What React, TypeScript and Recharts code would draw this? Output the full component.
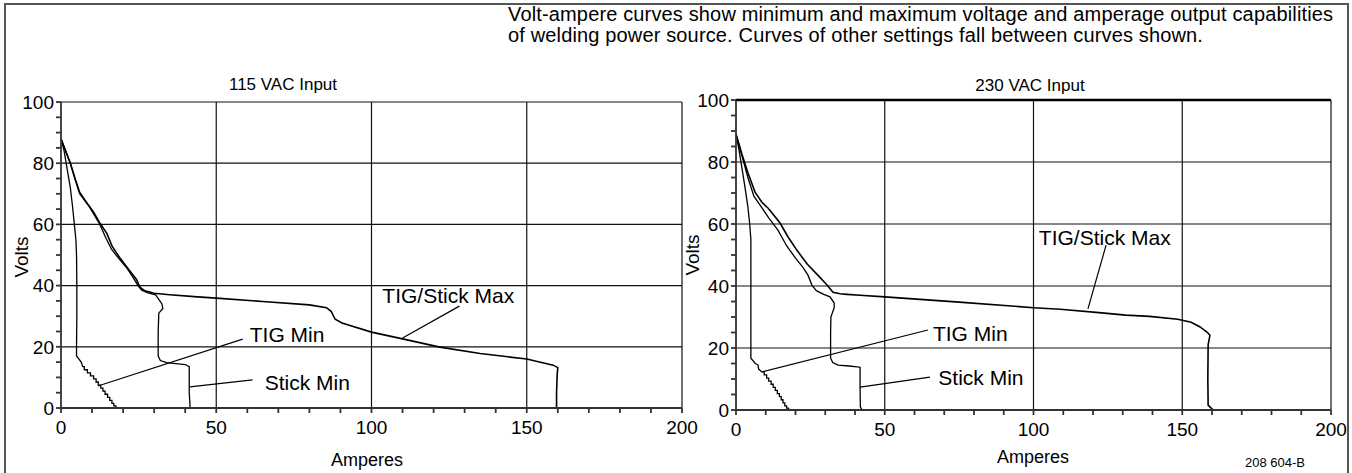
import React from 'react';
import {
  LineChart,
  Line,
  XAxis,
  YAxis,
  CartesianGrid,
  ReferenceLine,
  ReferenceDot,
} from 'recharts';

// [amperes, volts]
const LEFT_TIG_MIN: [number, number][] = [
  [0, 88], [1, 84], [2, 78], [3, 72], [3.7, 66], [4.3, 60], [4.8, 55], [5, 50], [5.1, 40], [5.1, 30],
  [5, 20], [5, 17], [5.8, 16], [6.5, 15], [7, 13.5], [7.5, 13.5], [7.5, 12.5], [8.5, 12.5], [8.5, 11.5],
  [9.5, 11.5], [9.5, 10.5], [10.5, 10.5], [10.5, 9.5], [11.3, 9.5], [11.3, 8.5], [12, 8.5], [12, 7.5],
  [12.8, 7.5], [12.8, 6.5], [13.5, 6.5], [13.5, 5.5], [14.2, 5.5], [14.2, 4.5], [15, 4.5], [15, 3.5],
  [15.7, 3.5], [15.7, 2.5], [16.4, 2.5], [16.4, 1.5], [17, 1.5], [17, 0.7], [17.6, 0.7], [18, 0],
];
const LEFT_STICK_MIN: [number, number][] = [
  [0, 88], [3, 80], [6, 70], [9, 66], [12.5, 60], [14.5, 55.5], [16.2, 52], [18.5, 49], [21, 46],
  [23, 43], [24.8, 40], [26, 38.5], [28, 37.6], [30.5, 37], [32.5, 34], [32.8, 32.5], [31.5, 31],
  [31.3, 25], [31.3, 17], [32, 15.5], [34, 14.8], [37, 14.5], [40, 14.2], [41.3, 13.5], [41.3, 5], [41.6, 0],
];
const LEFT_MAX: [number, number][] = [
  [0, 88], [1.5, 84], [3, 80], [4.5, 75], [6, 70.5], [8, 67.5], [10.5, 64], [12.5, 60.5], [14.8, 57],
  [16.5, 52.8], [19, 49], [22, 45], [24.3, 42], [25.4, 39.5], [27, 38.3], [30, 37.5], [35, 37],
  [44, 36.3], [50, 35.9], [65, 34.8], [80, 33.7], [85.5, 32.8], [87, 31.6], [88.3, 29], [90.5, 27.8],
  [100, 24.8], [110, 22.6], [122, 19.9], [135, 17.8], [150, 16], [158.5, 14], [160, 13.2], [159.8, 11],
  [159.6, 5], [159.6, 0],
];

const RIGHT_TIG_MIN: [number, number][] = [
  [0, 89], [1, 84], [2, 78], [3, 72], [4, 65.5], [4.6, 60], [5, 55], [5, 40], [5, 30], [5, 20],
  [5, 16.7], [6.5, 15], [7.4, 14.5], [7.6, 13.2], [8.7, 12.3], [9.5, 12.3], [9.5, 11.3], [10.3, 11.3],
  [10.3, 10.3], [11, 10.3], [11, 9.3], [11.8, 9.3], [11.8, 8.3], [12.5, 8.3], [12.5, 7.3], [13.2, 7.3],
  [13.2, 6.3], [13.9, 6.3], [13.9, 5.3], [14.6, 5.3], [14.6, 4.3], [15.2, 4.3], [15.2, 3.3], [15.8, 3.3],
  [15.8, 2.3], [16.4, 2.3], [16.4, 1.3], [17, 1.3], [17, 0.6], [17.6, 0.6], [18, 0],
];
const RIGHT_STICK_MIN: [number, number][] = [
  [0, 89], [2, 82], [4, 75], [6, 69], [8.5, 65.5], [11, 62], [14.1, 58], [17, 53], [20, 49],
  [22.5, 46], [24.2, 43.5], [25.5, 40.3], [27, 38.5], [29.5, 37.3], [31.6, 36.5], [33, 34.5], [33, 33],
  [31.9, 30], [31.8, 25], [31.8, 16.8], [32.5, 15.3], [34.3, 14.5], [38, 14.2], [41.7, 13.8], [41.7, 8],
  [41.8, 1], [42.4, 0],
];
const RIGHT_MAX: [number, number][] = [
  [0, 89], [2, 82.5], [4, 76.5], [6.4, 70.3], [8.7, 67], [10.9, 65], [13, 62.5], [14.8, 60.3],
  [17.5, 55.8], [20.5, 51.5], [24, 47], [27.5, 43.5], [30.6, 40.3], [32.6, 38], [35, 37.5], [37.3, 37.3],
  [41.7, 37], [50, 36.5], [75, 34.8], [100, 33], [109, 32.5], [122, 31.4], [131, 30.6], [139, 30.2],
  [148.5, 29.3], [153, 28.3], [156, 26.8], [158.5, 25], [159.3, 24.1], [158.7, 21], [158.6, 10],
  [158.7, 1.6], [160.4, 0],
];

// leader lines: [fromA, fromV, toA, toV], labels: [text, A, V]
const LEFT_LEADERS = [
  [128.3, 33.3, 110, 22.9],
  [58.5, 22.5, 11.9, 7.2],
  [61.7, 9.2, 41.5, 6.9],
];
const LEFT_LABELS: [string, number, number][] = [
  ['TIG/Stick Max', 103.5, 36.6],
  ['TIG Min', 60.8, 23.9],
  ['Stick Min', 65.6, 8.2],
];
const RIGHT_LEADERS = [
  [124.4, 53.2, 118.3, 32.6],
  [64.5, 25.8, 8.7, 12.3],
  [65.2, 10.6, 41.7, 7.4],
];
const RIGHT_LABELS: [string, number, number][] = [
  ['TIG/Stick Max', 101.8, 55.5],
  ['TIG Min', 66.2, 24.8],
  ['Stick Min', 68, 10.6],
];

const X_TICKS = [0, 10, 20, 30, 40, 50, 60, 70, 80, 90, 100, 110, 120, 130, 140, 150, 160, 170, 180, 190, 200];
const Y_TICKS = [0, 5, 10, 15, 20, 25, 30, 35, 40, 45, 50, 55, 60, 65, 70, 75, 80, 85, 90, 95, 100];

const FONT = '"Liberation Sans", Arial, Helvetica, sans-serif';

const toRows = (pts: [number, number][]) => pts.map(([a, v]) => ({ a, v }));

interface PanelProps {
  left: number;
  width: number;
  margin: { top: number; right: number; bottom: number; left: number };
  series: [number, number][][];
  leaders: number[][];
  labels: [string, number, number][];
  heavyTop?: boolean;
}

const Panel: React.FC<PanelProps> = ({ left, width, margin, series, leaders, labels, heavyTop }) => (
  <div style={{ position: 'absolute', left, top: 0 }}>
    <LineChart width={width} height={473} margin={margin}>
      <CartesianGrid
        stroke="#111"
        strokeWidth={1.2}
        horizontalValues={[20, 40, 60, 80, 100]}
        verticalValues={[50, 100, 150, 200]}
      />
      <XAxis
        type="number"
        dataKey="a"
        domain={[0, 200]}
        ticks={X_TICKS}
        interval={0}
        allowDataOverflow
        height={30}
        tickSize={5}
        tickMargin={8}
        stroke="#333"
        strokeWidth={1.8}
        tick={{ fill: '#000', fontSize: 19, fontFamily: FONT }}
        tickFormatter={(v: number) => (v % 50 === 0 ? String(v) : '')}
      />
      <YAxis
        type="number"
        dataKey="v"
        domain={[0, 100]}
        ticks={Y_TICKS}
        interval={0}
        allowDataOverflow
        width={50}
        tickSize={5}
        stroke="#333"
        strokeWidth={1.8}
        tick={{ fill: '#000', fontSize: 19, fontFamily: FONT }}
        tickFormatter={(v: number) => (v % 20 === 0 ? String(v) : '')}
      />
      {heavyTop && <ReferenceLine y={100} stroke="#000" strokeWidth={2.5} />}
      {series.map((pts, i) => (
        <Line
          key={i}
          data={toRows(pts)}
          dataKey="v"
          type="linear"
          stroke="#000"
          strokeWidth={i === 2 ? 1.6 : 1.3}
          dot={false}
          isAnimationActive={false}
        />
      ))}
      {leaders.map(([x1, y1, x2, y2], i) => (
        <ReferenceLine
          key={'l' + i}
          segment={[{ x: x1, y: y1 }, { x: x2, y: y2 }]}
          stroke="#000"
          strokeWidth={1.2}
        />
      ))}
      {labels.map(([text, a, v], i) => (
        <ReferenceDot
          key={'t' + i}
          x={a}
          y={v}
          r={0}
          stroke="none"
          fill="none"
          label={{ value: text, position: 'right', offset: 0, fill: '#000', fontSize: 21, fontFamily: FONT }}
        />
      ))}
    </LineChart>
  </div>
);

const txt = (s: React.CSSProperties): React.CSSProperties => ({
  position: 'absolute',
  fontFamily: FONT,
  color: '#000',
  whiteSpace: 'nowrap',
  ...s,
});

export default function App() {
  return (
    <div style={{ position: 'absolute', left: 0, top: 0, width: 1352, height: 473, background: '#fff', overflow: 'hidden' }}>
      <div
        style={{
          position: 'absolute',
          left: 4,
          top: 3,
          width: 1341,
          height: 490,
          borderTop: '2px solid #555',
          borderLeft: '2px solid #555',
          borderRight: '2px solid #555',
        }}
      />
      <div style={txt({ left: 508, top: 4, fontSize: 20, lineHeight: '21px', letterSpacing: '0.15px' })}>
        Volt-ampere curves show minimum and maximum voltage and amperage output capabilities
        <br />
        of welding power source. Curves of other settings fall between curves shown.
      </div>
      <div style={txt({ left: 183, top: 75, width: 200, textAlign: 'center', fontSize: 17, lineHeight: '20px' })}>
        115 VAC Input
      </div>
      <div style={txt({ left: 930, top: 76, width: 200, textAlign: 'center', fontSize: 17, lineHeight: '20px' })}>
        230 VAC Input
      </div>

      <Panel
        left={0}
        width={700}
        margin={{ top: 102, right: 18, bottom: 35, left: 11 }}
        series={[LEFT_TIG_MIN, LEFT_STICK_MIN, LEFT_MAX]}
        leaders={LEFT_LEADERS}
        labels={LEFT_LABELS}
      />
      <Panel
        left={680}
        width={672}
        margin={{ top: 100, right: 21, bottom: 33, left: 6 }}
        series={[RIGHT_TIG_MIN, RIGHT_STICK_MIN, RIGHT_MAX]}
        leaders={RIGHT_LEADERS}
        labels={RIGHT_LABELS}
        heavyTop
      />

      <div style={txt({ left: 22, top: 257, fontSize: 19, lineHeight: '20px', transform: 'translate(-50%, -50%) rotate(-90deg)' })}>
        Volts
      </div>
      <div style={txt({ left: 693, top: 255, fontSize: 19, lineHeight: '20px', transform: 'translate(-50%, -50%) rotate(-90deg)' })}>
        Volts
      </div>
      <div style={txt({ left: 367, top: 460, fontSize: 18, lineHeight: '20px', transform: 'translate(-50%, -50%)' })}>
        Amperes
      </div>
      <div style={txt({ left: 1033, top: 457, fontSize: 18, lineHeight: '20px', transform: 'translate(-50%, -50%)' })}>
        Amperes
      </div>
      <div style={txt({ left: 1245, top: 455, fontSize: 13, lineHeight: '16px' })}>208 604-B</div>
    </div>
  );
}
